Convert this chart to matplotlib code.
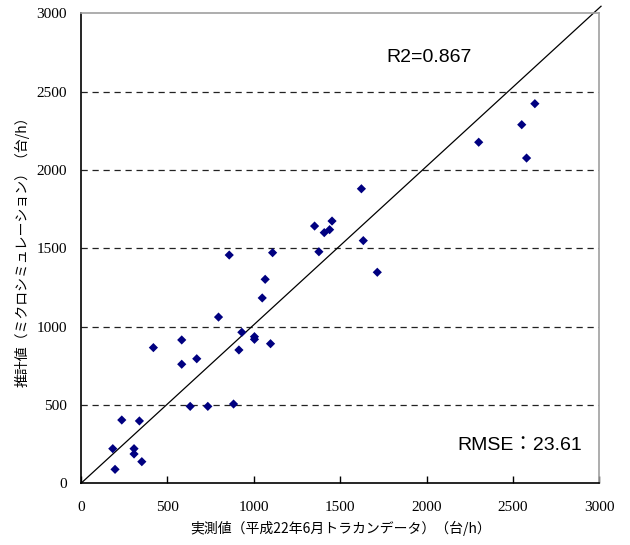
import matplotlib
matplotlib.use("Agg")
import matplotlib.pyplot as plt
from matplotlib.ticker import FixedLocator

plt.rcParams['font.family'] = ['Noto Sans CJK JP', 'DejaVu Sans']

# Observed (x) and estimated (y) traffic volumes [veh/h]
observed = [236, 338, 184, 307, 307, 352, 197, 632, 734, 883,
            419, 583, 583, 670, 796, 858, 931, 914, 1004, 1004,
            1097, 1049, 1066, 1109, 1352, 1377, 1408, 1439, 1453, 1634,
            1715, 1623, 2627, 2551, 2302, 2579]
estimated = [404, 398, 221, 221, 187, 138, 89, 491, 491, 506,
             866, 915, 760, 795, 1061, 1457, 964, 851, 936, 919,
             891, 1183, 1302, 1472, 1642, 1478, 1600, 1619, 1674, 1549,
             1347, 1880, 2423, 2289, 2177, 2076]

ticks = [0, 500, 1000, 1500, 2000, 2500, 3000]
grid_levels = [500, 1000, 1500, 2000, 2500]
ref_line_x = [0, 3010]
ref_line_y = [0, 3045]

xlabel = "実測値（平成22年6月トラカンデータ）（台/h）"
ylabel = "推計値（ミクロシミュレーション）（台/h）"
r2_text = "R2=0.867"
rmse_text = "RMSE：23.61"

fig = plt.figure(figsize=(6.3, 5.45), dpi=100)
ax = fig.add_axes([81/630, 1 - 483.3/545, (599.3-81)/630, (483.3-13.3)/545])

ax.set_xlim(0, 3000)
ax.set_ylim(0, 3000)

for g in grid_levels:
    ax.axhline(g, color='#222222', lw=0.9, dashes=(5, 3.8), zorder=1)

ax.plot(ref_line_x, ref_line_y, color='black', lw=0.9, clip_on=False, zorder=2)
ax.scatter(observed, estimated, marker='D', s=22, color='#000080',
           edgecolors='none', zorder=3)

ax.xaxis.set_major_locator(FixedLocator(ticks))
ax.yaxis.set_major_locator(FixedLocator(ticks))
ax.set_xticklabels([str(t) for t in ticks], family='Liberation Serif', fontsize=11)
ax.set_yticklabels([str(t) for t in ticks], family='Liberation Serif', fontsize=11)
ax.tick_params(axis='x', direction='in', length=5, width=1, pad=13, color='black')
ax.tick_params(axis='y', direction='in', length=0, width=1, pad=10, color='black')

for s in ['left', 'bottom']:
    ax.spines[s].set_color('black')
    ax.spines[s].set_linewidth(1.2)
for s in ['top', 'right']:
    ax.spines[s].set_color('#a0a0a0')
    ax.spines[s].set_linewidth(1.2)

ax.set_xlabel(xlabel, fontsize=10, labelpad=5)
ax.set_ylabel(ylabel, fontsize=10, labelpad=5)

ax.text(1767, 2721, r2_text, family=['Liberation Sans', 'Noto Sans CJK JP'],
        fontsize=14, va='center', ha='left')
ax.text(2179, 244, rmse_text, family=['Liberation Sans', 'Noto Sans CJK JP'],
        fontsize=14, va='center', ha='left')

fig.savefig("out.png", dpi=100)
